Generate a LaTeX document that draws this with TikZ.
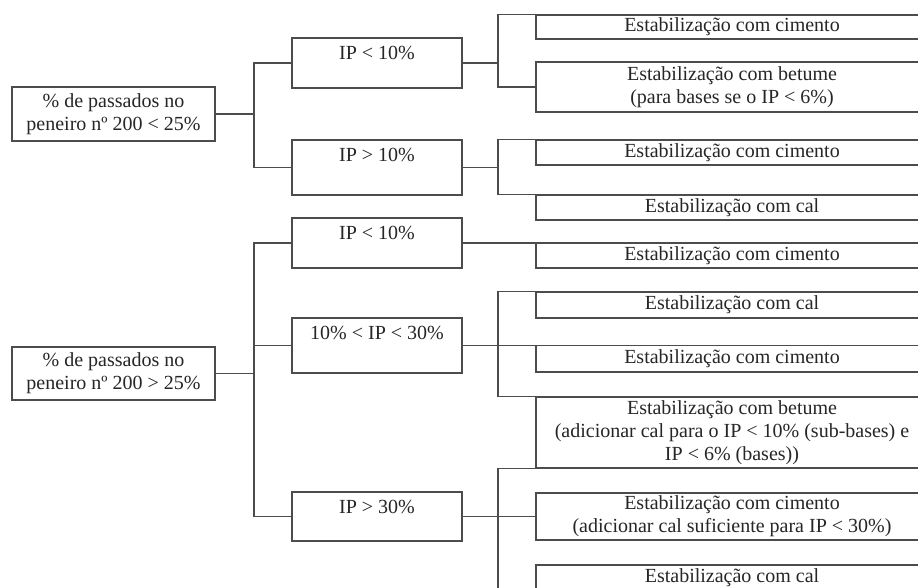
\documentclass[tikz,border=0pt]{standalone}
\usepackage{fontspec}
\setmainfont{Liberation Serif}
\begin{document}
\begin{tikzpicture}[x=1pt,y=-1pt,
  every node/.style={font=\fontsize{20}{23}\selectfont, text=black!85},
  ln/.style={draw=black!70, line width=1.2pt},
  lbox/.style={ln, rectangle, minimum width=203pt, inner sep=0pt, align=center},
  mbox/.style={ln, rectangle, minimum width=170pt, inner sep=0pt},
  mlab/.style={anchor=north, inner sep=0pt, yshift=-8.5pt},
  rbox/.style={ln, rectangle, minimum width=392pt, inner sep=0pt, align=center}]
\useasboundingbox (0,0) rectangle (918,588);
\fill[white] (0,0) rectangle (918,588);
\clip (0,0) rectangle (918,588);

% left boxes
\node[lbox, minimum height=54pt] (L1) at (113.5,114) {\% de passados no\\peneiro nº 200 < 25\%};
\node[lbox, minimum height=53pt] (L2) at (113.5,373.5) {\% de passados no\\peneiro nº 200 > 25\%};

% middle boxes
\node[mbox, minimum height=50pt, label={[mlab]north:IP < 10\%}] (A) at (377,63) {};
\node[mbox, minimum height=55pt, label={[mlab]north:IP > 10\%}] (B) at (377,167.5) {};
\node[mbox, minimum height=50pt, label={[mlab]north:IP < 10\%}] (C) at (377,243) {};
\node[mbox, minimum height=55pt, label={[mlab]north:10\% < IP < 30\%}] (D) at (377,345.5) {};
\node[mbox, minimum height=49pt, label={[mlab]north:IP > 30\%}] (E) at (377,516.5) {};

% right boxes
\node[rbox, minimum height=24pt] (R1) at (732,27) {Estabilização com cimento};
\node[rbox, minimum height=50pt] (R2) at (732,87) {Estabilização com betume\\(para bases se o IP < 6\%)};
\node[rbox, minimum height=25pt] (R3) at (732,152.5) {Estabilização com cimento};
\node[rbox, minimum height=25pt] (R4) at (732,207.5) {Estabilização com cal};
\node[rbox, minimum height=25pt] (R5) at (732,255.5) {Estabilização com cimento};
\node[rbox, minimum height=26pt] (R6) at (732,305) {Estabilização com cal};
\node[rbox, minimum height=26.5pt] (R7) at (732,358.75) {Estabilização com cimento};
\node[rbox, minimum height=71pt] (R8) at (732,432.5) {Estabilização com betume\\(adicionar cal para o IP < 10\% (sub-bases) e\\IP < 6\% (bases))};
\node[rbox, minimum height=47pt] (R9) at (732,516.5) {Estabilização com cimento\\(adicionar cal suficiente para IP < 30\%)};
\node[rbox, minimum height=25pt] (R10) at (732,577.5) {Estabilização com cal};

% trunk coordinates
\coordinate (v1) at (254,0);
\coordinate (v2) at (498,0);
\coordinate (vend) at (498,600);

% left connectors
\draw[ln] (L1.east) -- (L1.east -| v1);
\draw[ln] (A.west) -- (A.west -| v1) -- (B.west -| v1) -- (B.west);
\draw[ln] (L2.east) -- (L2.east -| v1);
\draw[ln] (C.west) -- (C.west -| v1) -- (E.west -| v1) -- (E.west);
\draw[ln] (D.west) -- (D.west -| v1);

% right connectors
\draw[ln] (A.east) -- (A.east -| v2);
\draw[ln] (R1.north west) -- (R1.north west -| v2) -- (R2.west -| v2) -- (R2.west);
\draw[ln] (B.east) -- (B.east -| v2);
\draw[ln] (R3.north west) -- (R3.north west -| v2) -- (R4.north west -| v2) -- (R4.north west);
\draw[ln] (C.east) -- (C.east -| R5.west);
\draw[ln] (D.east) -- (D.east -| R7.west);
\draw[ln] (R6.north west) -- (R6.north west -| v2) -- (R8.north west -| v2) -- (R8.north west);
\draw[ln] (E.east) -- (E.east -| R9.west);
\draw[ln] (R8.south west) -- (R8.south west -| v2) -- (vend);
\end{tikzpicture}
\end{document}
